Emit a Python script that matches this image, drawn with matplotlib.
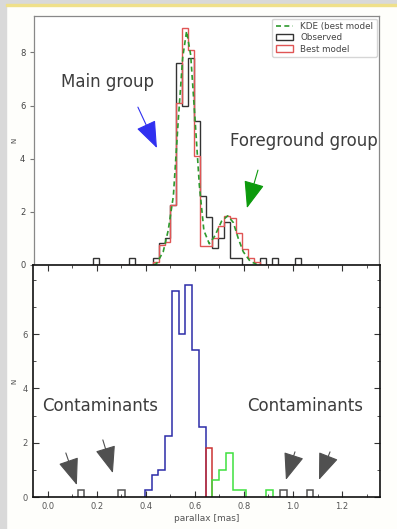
import numpy as np
import matplotlib
matplotlib.use("Agg")
import matplotlib.pyplot as plt
from matplotlib.lines import Line2D
from matplotlib.patches import Patch, Rectangle
from matplotlib.ticker import MultipleLocator

# histogram bins (parallax, mas)
bin_start = 0.396
bin_width = 0.0275
bin_index = np.arange(-10, 26)  # edges for bins k=-10..24
edges = bin_start + bin_width * bin_index

observed = [0.25, 0, 0, 0, 0, 0, 0.25, 0, 0, 0,
            0.25, 0.82, 1.0, 2.25, 7.6, 6.0, 7.8, 5.4, 2.6, 1.8,
            0.63, 1.0, 1.62, 0.25, 0.25, 0, 0, 0, 0.25, 0,
            0.25, 0, 0, 0, 0.25]
best_model = [0, 0, 0, 0, 0, 0, 0, 0, 0, 0,
              0.1, 0.75, 0.85, 2.25, 6.1, 8.9, 8.1, 4.1, 0.72, 0.72,
              1.0, 1.45, 1.85, 1.75, 1.2, 0.6, 0.25, 0.1, 0, 0,
              0, 0, 0, 0, 0]

# KDE of best model
kde_x = [0.40, 0.414, 0.445, 0.468, 0.492, 0.515, 0.535, 0.553, 0.572, 0.592,
         0.612, 0.633, 0.658, 0.684, 0.715, 0.743, 0.769, 0.792, 0.815, 0.846, 0.877]
kde_y = [0.0, 0.05, 0.5, 1.3, 2.6, 5.5, 7.8, 8.8, 7.9, 5.5,
         3.0, 1.3, 0.8, 1.1, 1.65, 1.85, 1.6, 1.0, 0.5, 0.15, 0.02]

# membership groups in the lower panel: (first bin k, last bin k, colour)
groups = [(-10, -10, "#555555"), (-4, -4, "#555555"),
          (0, 8, "#2c2ca8"), (9, 9, "#cc3333"),
          (10, 14, "#3fe03f"), (18, 18, "#3fe03f"),
          (20, 20, "#555555"), (24, 24, "#555555")]

W, H = 397, 529
fig = plt.figure(figsize=(W / 100, H / 100), dpi=100, facecolor="#fefefb")
# slide frame
fig.patches.append(Rectangle((0, 0), 6 / W, 1, transform=fig.transFigure,
                             color="#d9d9d9", zorder=-5))
fig.patches.append(Rectangle((0, 1 - 4.5 / H), 1, 4.5 / H, transform=fig.transFigure,
                             color="#d9d9d9", zorder=-5))
fig.patches.append(Rectangle((6 / W, 1 - 5.5 / H), 1, 1 / H, transform=fig.transFigure,
                             color="#efe08a", zorder=-4))

arrow_style = "-|>,head_length=1.7,head_width=0.65"

# ---------- top panel ----------
ax1 = fig.add_axes([34.3 / W, 1 - 265 / H, 345 / W, 249 / H])
ax1.stairs(observed, edges, color="#333333", lw=1.0, baseline=0)
ax1.stairs(best_model, edges, color="#e05555", lw=1.0, baseline=0)
ax1.plot(kde_x, kde_y, color="#2e9a2e", lw=1.2, ls=(0, (3, 2)))
ax1.set_xlim(-0.151, 1.444)
ax1.set_ylim(0, 9.37)
ax1.set_xticks(np.linspace(-0.151, 1.444, 14))
ax1.set_xticklabels([])
ax1.set_yticks([0, 2, 4, 6, 8])
ax1.tick_params(direction="out", length=3, width=0.8, colors="#777777",
                labelcolor="#444444", labelsize=6)
for s in ax1.spines.values():
    s.set_color("#888888")
    s.set_linewidth(0.9)
ax1.set_ylabel("N", fontsize=5, color="#444444", labelpad=2)

handles = [Line2D([], [], color="#2e9a2e", lw=1.2, ls=(0, (3, 2))),
           Patch(facecolor="none", edgecolor="#333333"),
           Patch(facecolor="none", edgecolor="#e05555")]
leg = ax1.legend(handles, ["KDE (best model", "Observed", "Best model"],
                 loc="upper right", fontsize=6.3, frameon=True, borderpad=0.4,
                 labelspacing=0.25, handlelength=2.0, borderaxespad=0.3)
leg.get_frame().set_edgecolor("#cccccc")
for t in leg.get_texts():
    t.set_color("#444444")

ax1.text(0.189, 6.88, "Main group", fontsize=12, color="#3d3d3d",
         ha="center", va="center")
ax1.text(1.093, 4.67, "Foreground group", fontsize=12, color="#3d3d3d",
         ha="center", va="center")
ax1.annotate("", xy=(0.416, 4.40), xytext=(0.328, 5.94),
             arrowprops=dict(arrowstyle=arrow_style, color="#3030f0", lw=0.8,
                             mutation_scale=10, shrinkA=0, shrinkB=0))
ax1.annotate("", xy=(0.832, 2.14), xytext=(0.883, 3.57),
             arrowprops=dict(arrowstyle=arrow_style, color="#0c9a0c", lw=0.8,
                             mutation_scale=10, shrinkA=0, shrinkB=0))

# ---------- bottom panel ----------
ax2 = fig.add_axes([33 / W, 1 - 497.3 / H, 347 / W, 232.3 / H])
ax2.set_facecolor("white")
obs = np.array(observed)
for k0, k1, col in groups:
    i0, i1 = k0 + 10, k1 + 10
    ax2.stairs(obs[i0:i1 + 1], edges[i0:i1 + 2], color=col, lw=1.1, baseline=0)
ax2.set_xlim(-0.061, 1.355)
ax2.set_ylim(0, 8.54)
ax2.set_xticks([0.0, 0.2, 0.4, 0.6, 0.8, 1.0, 1.2])
ax2.set_yticks([0, 2, 4, 6])
ax2.xaxis.set_minor_locator(MultipleLocator(0.1))
ax2.yaxis.set_minor_locator(MultipleLocator(1))
ax2.tick_params(which="both", direction="in", top=True, right=True,
                colors="#333333", labelcolor="#555555", labelsize=6)
ax2.tick_params(which="major", length=4, width=0.8)
ax2.tick_params(which="minor", length=2, width=0.6)
for s in ax2.spines.values():
    s.set_color("#111111")
    s.set_linewidth(1.2)
ax2.set_xlabel("parallax [mas]", fontsize=6.5, color="#555555", labelpad=2)
ax2.set_ylabel("N", fontsize=5, color="#444444", labelpad=4)

ax2.text(0.212, 3.36, "Contaminants", fontsize=12, color="#3d3d3d",
         ha="center", va="center")
ax2.text(1.049, 3.36, "Contaminants", fontsize=12, color="#3d3d3d",
         ha="center", va="center")
arrows = [((0.073, 1.63), (0.118, 0.45)), ((0.224, 2.11), (0.265, 0.89)),
          ((1.008, 1.67), (0.971, 0.64)), ((1.151, 1.67), (1.106, 0.64))]
for tail, tip in arrows:
    ax2.annotate("", xy=tip, xytext=tail,
                 arrowprops=dict(arrowstyle=arrow_style, color="#505050", lw=0.8,
                                 mutation_scale=10, shrinkA=0, shrinkB=0))

fig.savefig("out.png", dpi=100, facecolor=fig.get_facecolor())
